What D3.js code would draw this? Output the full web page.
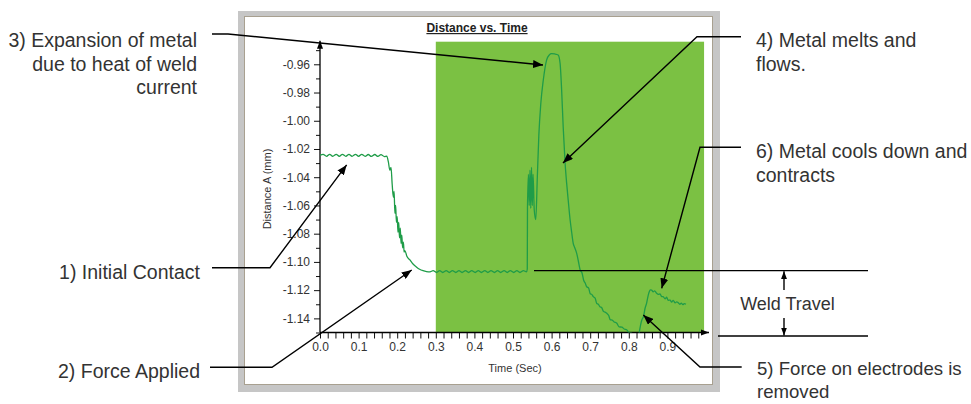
<!DOCTYPE html>
<html><head><meta charset="utf-8">
<script src="https://cdn.jsdelivr.net/npm/d3@7/dist/d3.min.js"></script>
<style>
body{margin:0;background:#fff}
svg{display:block}
text{font-family:"Liberation Sans",Arial,sans-serif}
</style>
</head><body>
<svg id="c" width="971" height="404"></svg>
<script>
// ---------- data ----------
const chartTitle = "Distance vs. Time";
const xAxisTitle = "Time (Sec)";
const yAxisTitle = "Distance A (mm)";
const xTickLabels = [0.0,0.1,0.2,0.3,0.4,0.5,0.6,0.7,0.8,0.9];
const yTickLabels = [-1.14,-1.12,-1.10,-1.08,-1.06,-1.04,-1.02,-1.00,-0.98,-0.96];
const weldWindow = [0.3, 0.995];

const timeSec = [
0.000,0.008,0.017,0.025,0.033,0.042,0.050,0.058,0.067,0.075,0.083,0.092,0.100,0.108,0.117,0.125,0.133,0.142,0.150,0.158,0.167,0.173,
0.177,0.181,0.184,0.187,0.190,0.192,0.194,0.196,0.198,0.200,0.202,0.204,0.206,0.208,0.210,0.212,0.214,0.216,0.218,0.220,0.225,0.233,0.241,0.249,0.258,0.267,0.276,0.285,
0.293,0.302,0.310,0.318,0.327,0.335,0.343,0.352,0.360,0.368,0.377,0.385,0.393,0.402,0.410,0.418,0.427,0.435,0.443,0.452,0.460,0.468,0.477,0.485,0.493,0.502,0.510,0.518,0.527,0.535,
0.5370,0.5375,0.540,0.542,0.544,0.546,0.548,0.550,0.552,0.555,0.559,0.563,0.567,0.572,0.5785,0.587,0.594,0.600,0.608,0.617,0.622,0.626,0.630,0.635,0.639,0.643,0.648,0.652,0.656,0.660,0.665,0.669,0.674,0.679,0.683,0.687,0.691,0.696,0.700,0.704,0.708,0.713,0.717,0.721,0.725,0.730,0.734,0.738,0.743,0.748,0.752,0.757,0.762,0.769,0.775,0.782,0.788,0.795,0.800,0.806,0.812,0.818,0.822,
0.827,0.831,0.834,0.838,0.842,0.846,0.850,0.853,0.856,0.859,0.863,0.867,0.872,0.877,0.881,0.885,0.889,0.894,0.898,0.902,0.907,0.911,0.915,0.920,0.924,0.928,0.932,0.936,0.940,0.944,0.948
];
const distanceMm = [
-1.0245,-1.0238,-1.0252,-1.0238,-1.0252,-1.0238,-1.0252,-1.0238,-1.0252,-1.0238,-1.0252,-1.0238,-1.0252,-1.0238,-1.0252,-1.0239,-1.0253,-1.0239,-1.0253,-1.0240,-1.0254,-1.0250,
-1.0290,-1.0350,-1.0330,-1.0450,-1.0540,-1.0500,-1.0656,-1.0600,-1.0720,-1.0680,-1.0790,-1.0720,-1.0830,-1.0760,-1.0870,-1.0810,-1.0900,-1.0860,-1.0930,-1.0920,-1.0960,-1.0986,-1.1015,-1.1034,-1.1052,-1.1062,-1.1068,-1.1070,
-1.1062,-1.1075,-1.1062,-1.1075,-1.1062,-1.1075,-1.1062,-1.1075,-1.1062,-1.1075,-1.1062,-1.1075,-1.1062,-1.1075,-1.1062,-1.1075,-1.1062,-1.1075,-1.1062,-1.1075,-1.1062,-1.1075,-1.1062,-1.1075,-1.1062,-1.1075,-1.1062,-1.1075,-1.1062,-1.1070,
-1.1050,-1.0620,-1.0380,-1.0600,-1.0350,-1.0620,-1.0330,-1.0600,-1.0380,-1.0630,-1.0700,-1.0400,-1.0100,-0.9880,-0.9711,-0.9570,-0.9534,-0.9525,-0.9527,-0.9534,-0.9593,-0.9782,-1.0042,-1.0301,-1.0443,-1.0561,-1.0703,-1.0790,-1.0868,-1.0900,-1.0939,-1.0990,-1.1057,-1.1080,-1.1130,-1.1150,-1.1176,-1.1185,-1.1225,-1.1230,-1.1246,-1.1258,-1.1295,-1.1300,-1.1317,-1.1325,-1.1350,-1.1355,-1.1364,-1.1380,-1.1410,-1.1412,-1.1425,-1.1435,-1.1460,-1.1462,-1.1475,-1.1482,-1.1500,-1.1502,-1.1518,-1.1535,-1.1540,
-1.1500,-1.1440,-1.1410,-1.1388,-1.1330,-1.1293,-1.1240,-1.1211,-1.1198,-1.1199,-1.1212,-1.1205,-1.1222,-1.1230,-1.1226,-1.1245,-1.1246,-1.1262,-1.1250,-1.1272,-1.1270,-1.1285,-1.1272,-1.1290,-1.1283,-1.1289,-1.1300,-1.1292,-1.1302,-1.1296,-1.1300
];

// annotations: text lines, and arrow tips in data units
const annoText = [
  ["3) Expansion of metal","due to heat of weld","current"],
  ["4) Metal melts and","flows."],
  ["6) Metal cools down and","contracts"],
  ["5) Force on electrodes is","removed"],
  ["1) Initial Contact"],
  ["2) Force Applied"],
  ["Weld Travel"]
];
const annoTipTime = [0.5777,0.6295,0.8852,0.8376,0.069,0.2376];
const annoTipDist = [-0.9605,-1.0299,-1.1187,-1.1376,-1.0313,-1.1057];
const weldTravelLevels = [-1.1062,-1.1525];

// ---------- drawing ----------
const svg = d3.select("#c");
const x = d3.scaleLinear().domain([0,1]).range([320,706]);
const y = d3.scaleLinear().domain([-1.15,-0.944]).range([332.5,41.7]);

const defs = svg.append("defs");
defs.append("marker").attr("id","ah").attr("viewBox","0 0 10 8").attr("refX",10).attr("refY",4)
  .attr("markerWidth",10).attr("markerHeight",8).attr("markerUnits","userSpaceOnUse").attr("orient","auto")
  .append("path").attr("d","M0,0L10,4L0,8Z").attr("fill","#000");
defs.append("marker").attr("id","ahs").attr("viewBox","0 0 8 6").attr("refX",8).attr("refY",3)
  .attr("markerWidth",8).attr("markerHeight",7).attr("markerUnits","userSpaceOnUse").attr("orient","auto")
  .append("path").attr("d","M0,0L8,3L0,6Z").attr("fill","#000");
defs.append("clipPath").attr("id","plotclip").append("rect")
  .attr("x",x(0)).attr("y",y(-0.944)).attr("width",x(1)-x(0)).attr("height",y(-1.15)-y(-0.944));

// frame
svg.append("rect").attr("x",238).attr("y",11).attr("width",482).attr("height",381).attr("fill","#c6c6c6");
svg.append("rect").attr("x",244.5).attr("y",16.5).attr("width",468).attr("height",368)
  .attr("fill","#fff").attr("stroke","#a8a090").attr("stroke-width",1);

// title
svg.append("text").attr("x",477).attr("y",32).attr("text-anchor","middle")
  .attr("font-size",12).attr("font-weight","bold").attr("text-decoration","underline")
  .attr("fill","#222").text(chartTitle);

// green weld window
svg.append("rect").attr("x",x(weldWindow[0])).attr("y",y(-0.944))
  .attr("width",x(weldWindow[1])-x(weldWindow[0])).attr("height",y(-1.15)-y(-0.944))
  .attr("fill","#7bc143");

// x axis
const xMinor = d3.range(0,0.99,0.02);
const xAx = svg.append("g").attr("transform",`translate(0,${y(-1.15)})`)
  .call(d3.axisBottom(x).tickValues(xMinor).tickSize(6).tickPadding(4)
    .tickFormat(d => { const m = xTickLabels.find(v => Math.abs(v-d)<1e-6); return m===undefined ? "" : m.toFixed(1); }));
xAx.select(".domain").remove();
xAx.selectAll("line").attr("stroke","#111").attr("stroke-width",1);
xAx.selectAll("text").attr("font-size",12).attr("fill","#333").attr("font-family","Liberation Sans, Arial, sans-serif");

// y axis
const yMinor = d3.range(-1.15,-0.945,0.01);
const yAx = svg.append("g").attr("transform",`translate(${x(0)},0)`)
  .call(d3.axisLeft(y).tickValues(yMinor).tickSize(6).tickPadding(4)
    .tickFormat(d => { const m = yTickLabels.find(v => Math.abs(v-d)<1e-6); return m===undefined ? "" : m.toFixed(2); }));
yAx.select(".domain").remove();
yAx.selectAll(".tick").each(function(d){
  const isMajor = yTickLabels.some(v => Math.abs(v-d)<1e-6);
  d3.select(this).select("line").attr("x2", isMajor ? -6 : -4);
});
yAx.selectAll("line").attr("stroke","#111").attr("stroke-width",1);
yAx.selectAll("text").attr("font-size",12).attr("fill","#333").attr("font-family","Liberation Sans, Arial, sans-serif");

// axis lines with arrows
svg.append("line").attr("x1",x(0)).attr("y1",y(-1.15)).attr("x2",x(0)).attr("y2",y(-0.944)-1)
  .attr("stroke","#000").attr("stroke-width",1.3).attr("marker-end","url(#ahs)");
svg.append("line").attr("x1",x(0)).attr("y1",y(-1.15)).attr("x2",x(1)+3).attr("y2",y(-1.15))
  .attr("stroke","#000").attr("stroke-width",1.3).attr("marker-end","url(#ahs)");

// axis titles
svg.append("text").attr("x",515).attr("y",372).attr("text-anchor","middle")
  .attr("font-size",11).attr("fill","#333").text(xAxisTitle);
svg.append("text").attr("transform","translate(271,189) rotate(-90)").attr("text-anchor","middle")
  .attr("font-size",11).attr("fill","#333").text(yAxisTitle);

// data line
const pts = timeSec.map((t,i)=>[t,distanceMm[i]]);
svg.append("path").datum(pts).attr("clip-path","url(#plotclip)")
  .attr("d", d3.line().x(d=>x(d[0])).y(d=>y(d[1])).curve(d3.curveMonotoneX))
  .attr("fill","none").attr("stroke","#1f9c48").attr("stroke-width",1.3).attr("stroke-linejoin","round");

// annotations
const ag = svg.append("g");
const fs = 19.5;
function label(lines, xp, y0, anchor, size){
  const t = ag.append("text").attr("x",xp).attr("y",y0).attr("text-anchor",anchor)
    .attr("font-size",size||fs).attr("fill","#333");
  lines.forEach((l,i)=> t.append("tspan").attr("x",xp).attr("dy", i===0?0:23.3).text(l));
}
function leader(points){
  ag.append("path").attr("d", d3.line()(points)).attr("fill","none")
    .attr("stroke","#000").attr("stroke-width",1.4).attr("marker-end","url(#ah)");
}
// 3)
label(annoText[0],197,47.3,"end");
leader([[212,34],[228,34],[x(annoTipTime[0]),y(annoTipDist[0])]]);
// 4)
label(annoText[1],756,47.3,"start");
leader([[741,36.7],[697,36.7],[x(annoTipTime[1]),y(annoTipDist[1])]]);
// 6)
label(annoText[2],756,158.3,"start");
leader([[741,147.3],[700,147.3],[x(annoTipTime[2]),y(annoTipDist[2])]]);
// 5)
label(annoText[3],757,375,"start",18.6);
leader([[741.7,367],[700,367],[x(annoTipTime[3]),y(annoTipDist[3])]]);
// 1)
label(annoText[4],200,279.3,"end");
leader([[212,267.7],[270,267.7],[x(annoTipTime[4]),y(annoTipDist[4])]]);
// 2)
label(annoText[5],200,378.3,"end");
leader([[210,367.3],[272,367.3],[x(annoTipTime[5]),y(annoTipDist[5])]]);

// weld travel
const wt0 = y(weldTravelLevels[0]), wt1 = y(weldTravelLevels[1]);
ag.append("line").attr("x1",534).attr("x2",868).attr("y1",wt0).attr("y2",wt0).attr("stroke","#000").attr("stroke-width",1.4);
ag.append("line").attr("x1",718).attr("x2",868).attr("y1",wt1).attr("y2",wt1).attr("stroke","#000").attr("stroke-width",1.4);
ag.append("line").attr("x1",784).attr("x2",784).attr("y1",290).attr("y2",wt0+0.5)
  .attr("stroke","#000").attr("stroke-width",1.4).attr("marker-end","url(#ahs)");
ag.append("line").attr("x1",784).attr("x2",784).attr("y1",318).attr("y2",wt1-0.5)
  .attr("stroke","#000").attr("stroke-width",1.4).attr("marker-end","url(#ahs)");
label(annoText[6],787.5,310,"middle",18);
</script>
</body></html>
